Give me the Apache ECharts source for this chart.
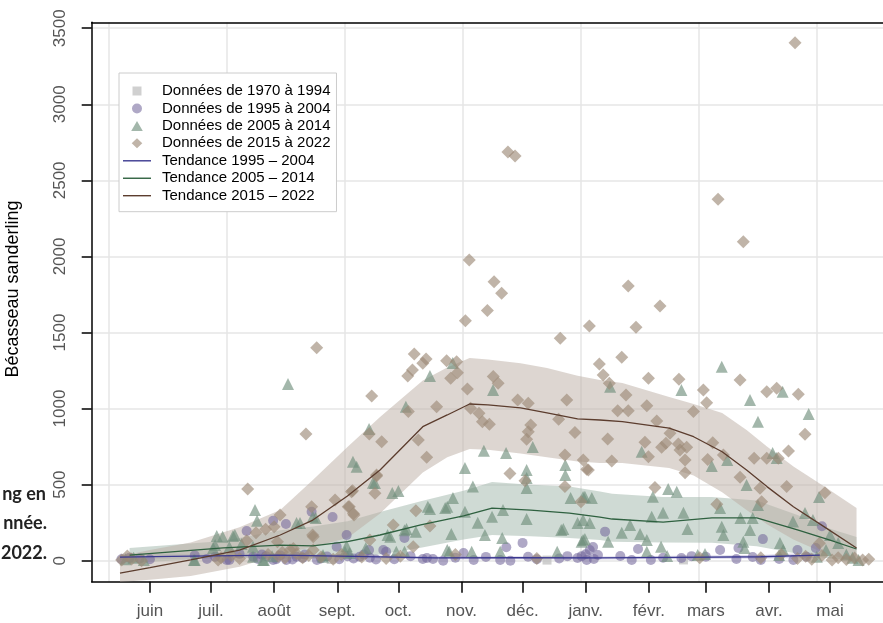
<!DOCTYPE html>
<html>
<head>
<meta charset="utf-8">
<script src="https://cdn.jsdelivr.net/npm/echarts@6/dist/echarts.min.js"></script>
<style>
html,body{margin:0;padding:0;background:#fff;}
#chart{width:883px;height:623px;}
</style>
</head>
<body>
<div id="chart"></div>
<script>
// ---- axis categories / ticks (x in days since 1 June) ----
const monthLabels = ['juin','juil.','août','sept.','oct.','nov.','déc.','janv.','févr.','mars','avr.','mai'];
const monthStarts = [0,30,61,92,122,153,183,214,245,273,304,334];
const yTicks = [0,500,1000,1500,2000,2500,3000,3500];
const gridDays = [-20.1, 37.8, 95.8, 153.7, 211.7, 269.6, 327.6];

// ---- observations [day, count] ----
const pts1970 = [[195,4],[89,8],[262,5]];

const pts1995 = [[-14,9],[-10,20],[-5,15],[0,10],[22,35],[28,12],[32,26],[37.7,5],[39,5],[44,45],[47.5,195],[50.7,26],[53,12],[55,40],[57,30],
[60.5,263],[60.5,5],[62,10],[64,35],[66.8,241],[67,5],[70,8],[72,26],[75,18],[76,40],[79.4,322],[82,5],[84,15],[87,28],[89.7,287],[91.7,92],
[93,10],[96.6,169],[97,30],[100,15],[103,26],[105,40],[107.6,70],[108,20],[111,8],[114.6,70],[116,59],[120,10],[125,149],[128,30],[134,11],
[136,18],[139,11],[144,0],[150,20],[154,50],[159,5],[165,25],[172,5],[175,88],[177,0],[183,117],[185.7,26],[190,10],[201,14],[205,30],
[210,18],[212,30],[214,42],[214.5,5],[216,70],[217.6,90],[218,12],[220,37],[223.5,191],[231,31],[236.6,5],[239.7,77],[246,5],[252,20],
[261,18],[266,30],[273,26],[280,70],[288,11],[289,83],[296,24],[300,5],[301,142],[309,11],[316,5],[318,70],[322.5,26],[327,83],[330,226]];

const pts2005 = [[-12,10],[-8,20],[-3,5],[21.6,5],[22,5],[31,83],[32,103],[32.8,162],[35.7,158],[39,90],[40.8,162],[41.7,169],[45,110],
[50.6,92],[50.6,26],[51.6,333],[52.6,263],[55.5,5],[56,5],[60,30],[67.8,1162],[72,248],[73.7,248],[80,289],[81.4,281],[85,26],[85,37],
[95.8,59],[96.6,97],[98,50],[99.7,651],[101.5,618],[106,83],[107.6,866],[109.5,513],[110.5,510],[116.7,169],[118,158],[119,445],[121,59],
[122,458],[125,201],[125,59],[125.7,1012],[126,208],[130.6,191],[136.5,355],[137.5,1214],[137.5,340],[145,346],[146,355],[146,70],[147,59],
[148,175],[148.7,1300],[148.8,412],[154.7,609],[154.7,322],[158,59],[158.6,487],[161,250],[164,723],[164.5,169],[168,289],[168.5,1122],
[172,59],[173,149],[173.4,333],[174.9,708],[185,274],[185,543],[185,596],[185,478],[188,747],[200,59],[202,202],[203,208],[204,629],
[204,563],[206.6,412],[210,248],[212,125],[212.7,419],[212.7,267],[212.7,136],[213.6,421],[213.6,142],[216,248],[217,412],[225,125],
[226,1144],[231.7,184],[235.8,234],[240.7,175],[241.5,716],[244,136],[244,59],[246.4,289],[247,421],[251,92],[252,316],[254,31],
[254.5,471],[258.7,454],[261,1122],[262,316],[264,208],[269,37],[272.6,44],[275.9,622],[280,346],[280.8,1275],[280.8,224],[281.6,169],
[283.5,662],[290,281],[291.4,125],[292,83],[293,498],[294.7,1056],[294.7,202],[296,281],[298.6,366],[298.6,914],[305.8,708],[307.8,675],
[309.4,116],[309,37],[310.7,1111],[311,70],[315.8,257],[321.7,313],[323.5,964],[325.6,267],[327.5,26],[328.6,419],[332,70],[334,169],
[338,116],[342,40],[345,20],[348,5]];

const pts2015 = [[316.8,3404],[175.8,2686],[179.3,2660],[279,2376],[291.4,2097],[156.8,1977],[169,1834],[172.7,1758],[234.9,1806],
[165.7,1644],[154.9,1578],[215.8,1543],[238.7,1534],[250.5,1674],[201.5,1462],[81.9,1400],[129.8,1359],[135.6,1326],[134,1298],
[145.7,1315],[150.6,1308],[128.9,1253],[126.6,1214],[147.7,1199],[151,1236],[220.7,1293],[231.7,1337],[222.6,1221],[225.6,1166],
[244.8,1199],[259.8,1192],[168.6,1210],[171,1166],[155.9,1129],[108.9,1083],[140.8,1012],[126.9,980],[157.5,1002],[161.6,969],
[163.3,914],[166.7,897],[180.6,1056],[185.8,1035],[204.7,1056],[200.7,930],[208.7,842],[187,892],[185.8,848],[185,798],[131.8,793],
[113.8,782],[76.6,833],[107.7,833],[135.9,680],[111.3,557],[110.5,443],[99.5,460],[90.9,399],[97.9,355],[100.2,300],[79.4,355],
[63.9,300],[203.8,695],[203.8,487],[212.8,662],[214.5,601],[176.8,574],[184.2,526],[211.7,388],[130.6,329],[119.5,235],[137.5,228],
[108,136],[129.3,92],[79.9,169],[80.2,70],
[233.8,1089],[244,1019],[229.7,986],[234.9,986],[248.9,918],[271.8,1122],[273.4,1039],[289.8,1188],[266.9,980],[302.9,1111],
[307.8,1133],[318.4,1094],[321.7,831],[313.6,721],[296.7,673],[302.9,673],[308.6,673],[224.8,800],[226.8,655],[215.3,596],[255.4,837],
[243.1,778],[244.8,684],[251.3,745],[253.4,772],[259.5,767],[263.6,745],[260.3,728],[262.8,662],[262.8,578],[276.4,776],[273.9,666],
[281.6,695],[289.8,548],[299.6,476],[300.4,388],[248,482],[278.4,371],[312.7,487],[331.5,447],[328.8,114],
[48,471],[52.1,184],[56.8,206],[61,224],[62.6,125],[-13.9,5],[-11.1,31],[-4.1,0],[47.5,131],[33.5,5],[68.8,70],[99,454],[111.3,563],
[99.9,311],[97.4,355],[80.2,158],[70.4,81],[66.3,18],
[-9,12],[35,20],[40,35],[44,15],[58,40],[63,30],[65,55],[72,45],[75,20],[78,35],[84,25],[90,10],[94,40],[104,25],[116,15],[123,30],
[150,40],[190,15],[270,20],[300,20],[310,40],[318,15],[322,30],[325,10],[330,35],[335,5],[338,20],[342,8],[346,18],[350,5],[353,10]];

// ---- trends and confidence bands ----
const brownDays = [-14.7,0,20,44,64,80,97,113,134,146,157,166,182,195,210,221,232,255,267,281,293,303,316,331,347];
const brownMid  = [-81,-45,5,70,169,267,425,596,881,958,1030,1024,1004,971,932,925,914,872,815,716,596,487,355,224,83];
const brownHigh = [30,70,120,220,333,530,748,945,1185,1270,1332,1322,1298,1267,1215,1188,1168,1076,1030,971,859,750,620,490,346];
const brownLow  = [-140,-125,-100,-40,40,90,150,310,580,680,734,730,705,680,652,642,642,610,560,450,333,240,140,50,-9];

const greenDays = [-10,36,64,80,97,113,133,154,168,187,206,221,227,252,276,298,318,334,347];
const greenMid  = [37,84,103,97,125,169,235,294,346,333,313,287,274,254,281,281,202,136,77];
const greenHigh = [84,130,201,225,260,320,390,460,517,500,488,455,440,419,419,395,300,210,156];
const greenLow  = [-15,20,15,15,25,40,85,140,169,160,150,136,125,120,118,95,45,15,5];

const purpleDays = [-14.7,20,64,100,140,180,220,260,300,329];
const purpleMid  = [24,30,37,28,18,20,18,22,26,37];
const purpleHigh = [45,45,50,38,28,30,28,32,38,56];
const purpleLow  = [5,15,25,18,8,10,8,12,14,18];

const legendNames = ['Données de 1970 à 1994','Données de 1995 à 2004','Données de 2005 à 2014','Données de 2015 à 2022',
  'Tendance 1995 – 2004','Tendance 2005 – 2014','Tendance 2015 – 2022'];

function zip(xs, ys){ return xs.map((x,i)=>[x, ys[i]]); }

function band(days, lo, hi, color){
  return {
    type:'custom', silent:true, z:1, clip:true,
    data: days.map((d,i)=>[d, lo[i], hi[i]]),
    encode:{x:0, y:[1,2]},
    renderItem:function(params, api){
      if (params.dataIndex !== 0) return null;
      const pts = [];
      for (let i=0;i<days.length;i++) pts.push(api.coord([days[i], hi[i]]));
      for (let i=days.length-1;i>=0;i--) pts.push(api.coord([days[i], lo[i]]));
      return {type:'polygon', shape:{points:pts}, style:{fill:color}};
    }
  };
}

// legend icons: 28x10 frame (tiny corner marks fix the box), glyph centred
const frame = 'M0,0L0.01,0L0.01,0.01Z M28,10L27.99,10L27.99,9.99Z ';
const lineIcon = 'path://M0,4.3H28V5.7H0Z';
const squareIcon = 'path://' + frame + 'M9.5,0.5H18.5V9.5H9.5Z';
const circleIcon = 'path://' + frame + 'M14,0A5,5 0 1,1 13.99,0Z';
const triangleIcon = 'path://' + frame + 'M14,0L19.8,10L8.2,10Z';
const diamondIcon = 'path://' + frame + 'M14,-0.3L19.6,5L14,10.3L8.4,5Z';

const chart = echarts.init(document.getElementById('chart'), null, {renderer:'canvas'});
const xMin = -28.6, xMax = 360.0;

chart.setOption({
  animation:false,
  textStyle:{fontFamily:'Liberation Sans, Arial, sans-serif'},
  grid:{left:91.7, right:0, top:22.3, bottom:41.3},
  legend:{
    data:[
      {name:legendNames[0], icon:squareIcon},{name:legendNames[1], icon:circleIcon},
      {name:legendNames[2], icon:triangleIcon},{name:legendNames[3], icon:diamondIcon},
      {name:legendNames[4], icon:lineIcon},{name:legendNames[5], icon:lineIcon},{name:legendNames[6], icon:lineIcon}
    ],
    orient:'vertical', left:119, top:73,
    padding:[10.5,6,8.5,4], itemWidth:28, itemHeight:10, itemGap:2.45,
    symbolKeepAspect:true,
    borderColor:'#cccccc', borderWidth:1, backgroundColor:'#ffffff',
    textStyle:{fontSize:15, color:'#000', padding:[0,0,0,6], fontFamily:'Liberation Sans, Arial, sans-serif'}
  },
  xAxis:[
    {type:'value', min:xMin, max:xMax, position:'bottom',
     axisLine:{show:true, onZero:false, lineStyle:{color:'#000', width:1.5}},
     axisTick:{show:true, length:11, customValues:monthStarts, lineStyle:{color:'#000', width:1.5}},
     axisLabel:{show:true, customValues:monthStarts, margin:21, fontSize:17, color:'#555',
       formatter:function(v){ const i = monthStarts.indexOf(v); return i>=0 ? monthLabels[i] : ''; }},
     splitLine:{show:false}},
    {type:'value', min:xMin, max:xMax, position:'top',
     axisLine:{show:true, onZero:false, lineStyle:{color:'#000', width:1.5}},
     axisTick:{show:false, customValues:gridDays},
     axisLabel:{show:false},
     splitLine:{show:true, lineStyle:{color:'#e6e6e6', width:1.5}}}
  ],
  yAxis:{type:'value', min:-138, max:3539,
     axisLine:{show:true, onZero:false, lineStyle:{color:'#000', width:1.5}},
     axisTick:{show:true, length:10, customValues:yTicks, lineStyle:{color:'#000', width:1.5}},
     axisLabel:{show:true, customValues:yTicks, rotate:90, margin:23, fontSize:17, color:'#555',
       formatter:function(v){ return String(v); }},
     splitLine:{show:true, lineStyle:{color:'#e6e6e6', width:1.5}}},
  graphic:[
    {type:'text', x:13, y:289, rotation:Math.PI/2,
     style:{text:'Bécasseau sanderling', fontSize:18, fill:'#000', align:'center', verticalAlign:'middle', fontFamily:'Liberation Sans, Arial, sans-serif'}},
    {type:'text', x:46, y:494, style:{text:'ng en', fontSize:18, fontWeight:'bold', fill:'#222', align:'right', verticalAlign:'middle', fontFamily:'Lato, sans-serif'}},
    {type:'text', x:47, y:523, style:{text:'nnée.', fontSize:18, fontWeight:'bold', fill:'#222', align:'right', verticalAlign:'middle', fontFamily:'Lato, sans-serif'}},
    {type:'text', x:47, y:553, style:{text:'2022.', fontSize:18, fontWeight:'bold', fill:'#222', align:'right', verticalAlign:'middle', fontFamily:'Lato, sans-serif'}}
  ],
  series:[
    band(purpleDays, purpleLow, purpleHigh, 'rgba(150,140,190,0.35)'),
    band(greenDays, greenLow, greenHigh, 'rgba(159,181,169,0.5)'),
    band(brownDays, brownLow, brownHigh, 'rgba(187,173,163,0.5)'),
    {type:'scatter', name:legendNames[0], data:pts1970, symbol:'rect', symbolSize:9, itemStyle:{color:'rgba(190,190,190,0.9)'}, z:2},
    {type:'scatter', name:legendNames[1], data:pts1995, symbol:'circle', symbolSize:10, itemStyle:{color:'rgba(112,99,154,0.7)'}, z:2},
    {type:'scatter', name:legendNames[2], data:pts2005, symbol:'triangle', symbolSize:12, itemStyle:{color:'rgba(111,142,124,0.8)'}, z:2},
    {type:'scatter', name:legendNames[3], data:pts2015, symbol:'diamond', symbolSize:13, itemStyle:{color:'rgba(157,138,119,0.8)'}, z:2},
    {type:'line', name:legendNames[4], data:zip(purpleDays, purpleMid), symbol:'none', showSymbol:false,
     itemStyle:{color:'#3b3990'}, lineStyle:{color:'#3b3990', width:1.3}, z:3},
    {type:'line', name:legendNames[5], data:zip(greenDays, greenMid), symbol:'none', showSymbol:false,
     itemStyle:{color:'#2f6140'}, lineStyle:{color:'#2f6140', width:1.3}, z:3},
    {type:'line', name:legendNames[6], data:zip(brownDays, brownMid), symbol:'none', showSymbol:false,
     itemStyle:{color:'#5c3d2e'}, lineStyle:{color:'#5c3d2e', width:1.3}, z:3}
  ]
});
</script>
</body>
</html>
